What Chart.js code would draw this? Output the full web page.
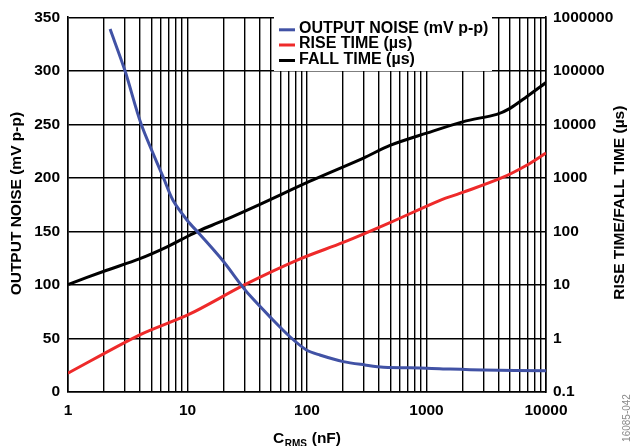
<!DOCTYPE html>
<html>
<head>
<meta charset="utf-8">
<script src="https://cdn.jsdelivr.net/npm/chart.js@4.4.0/dist/chart.umd.min.js"></script>
<style>
html,body{margin:0;padding:0;background:#fff;}
#wrap{width:631px;height:446px;position:relative;}
canvas{display:block;}
</style>
</head>
<body>
<div id="wrap"><canvas id="c" width="631" height="446"></canvas></div>
<script>
// ---- Data ----
const noiseX = [2.25, 3, 4.1, 6.3, 7.6, 10, 12.6, 19.7, 28, 33, 49, 72, 99, 128, 201, 305, 436, 1000, 1580, 3000, 10000];
const noiseY = [339, 300, 250, 200, 178.6, 160, 147.6, 122.8, 100.3, 90.5, 70.2, 51.6, 39.3, 34.6, 28.4, 25.3, 23.2, 22.3, 21.4, 20.5, 19.8];

const riseX = [1, 3.95, 10.35, 29.9, 87.6, 201, 495, 1298, 2040, 4390, 6890, 10000];
const riseY = [0.225, 1.157, 2.84, 10, 30.6, 62.2, 146, 381, 540, 1030, 1720, 2910];

const fallX = [1, 2.08, 3.95, 6.61, 10.35, 12.7, 19.7, 40.4, 106, 297, 495, 1000, 2040, 3870, 5000, 6890, 10000];
const fallY = [10.2, 18.6, 30.6, 50.3, 84, 105, 157, 321, 869, 2350, 4040, 6840, 11270, 15400, 19900, 32800, 60400];

const xTickValues = [1, 10, 100, 1000, 10000];
const xTickLabels = ['1', '10', '100', '1000', '10000'];
const xMinorMultipliers = [2, 3, 4, 5, 6, 7, 8, 9];
const yLeftTickLabels = ['0', '50', '100', '150', '200', '250', '300', '350'];
const yRightTickValues = [0.1, 1, 10, 100, 1000, 10000, 100000, 1000000];
const yRightTickLabels = ['0.1', '1', '10', '100', '1000', '10000', '100000', '1000000'];

const seriesNames = ['OUTPUT NOISE (mV p-p)', 'RISE TIME (µs)', 'FALL TIME (µs)'];
const seriesColors = ['#4152A5', '#EE2A2A', '#000000'];

const leftTitle = 'OUTPUT NOISE (mV p-p)';
const rightTitle = 'RISE TIME/FALL TIME (µs)';
const xTitleMain = 'C';
const xTitleSub = 'RMS';
const xTitleTail = ' (nF)';
const figureId = '16085-042';

// ---- Chart ----
const FONT = "'Liberation Sans', Arial, Helvetica, sans-serif";
Chart.defaults.font.family = FONT;
Chart.defaults.color = '#000';

const xGrid = [];
for (let d = 0; d < xTickValues.length; d++) {
  xGrid.push(xTickValues[d]);
  if (d < xTickValues.length - 1) {
    for (const m of xMinorMultipliers) xGrid.push(xTickValues[d] * m);
  }
}

const toPts = (xs, ys) => xs.map((x, i) => ({x: x, y: ys[i]}));

const annot = {
  id: 'annot',
  afterDatasetsDraw(chart) {
    const ctx = chart.ctx;
    ctx.save();
    // legend box
    ctx.fillStyle = '#fff';
    ctx.fillRect(274, 16.5, 218, 54.5);
    const rows = [28.8, 44, 59.5];
    ctx.font = "bold 16px " + FONT;
    ctx.textBaseline = 'middle';
    ctx.textAlign = 'left';
    for (let i = 0; i < seriesNames.length; i++) {
      ctx.strokeStyle = seriesColors[i];
      ctx.lineWidth = 3;
      ctx.beginPath();
      ctx.moveTo(279, rows[i] + 1);
      ctx.lineTo(295, rows[i] + 1);
      ctx.stroke();
      ctx.fillStyle = '#000';
      ctx.fillText(seriesNames[i], 299, rows[i]);
    }
    ctx.restore();
  },
  afterDraw(chart) {
    const ctx = chart.ctx;
    const ca = chart.chartArea;
    const cy = (ca.top + ca.bottom) / 2;
    ctx.save();
    ctx.fillStyle = '#000';
    ctx.font = "bold 15.5px " + FONT;
    ctx.textAlign = 'center';
    ctx.textBaseline = 'middle';
    // left title
    ctx.save();
    ctx.translate(17, cy - 1);
    ctx.rotate(-Math.PI / 2);
    ctx.fillText(leftTitle, 0, 0);
    ctx.restore();
    // right title
    ctx.save();
    ctx.translate(620, cy - 2);
    ctx.rotate(-Math.PI / 2);
    ctx.fillText(rightTitle, 0, 0);
    ctx.restore();
    // x title with subscript
    ctx.textAlign = 'left';
    ctx.textBaseline = 'alphabetic';
    const mainFont = "bold 15.5px " + FONT;
    const subFont = "bold 10px " + FONT;
    ctx.font = mainFont;
    const w1 = ctx.measureText(xTitleMain).width;
    const w3 = ctx.measureText(xTitleTail).width;
    ctx.font = subFont;
    const w2 = ctx.measureText(xTitleSub).width;
    const total = w1 + w2 + w3 + 1;
    let x = (ca.left + ca.right) / 2 - total / 2;
    const base = 443;
    ctx.font = mainFont;
    ctx.fillText(xTitleMain, x, base);
    x += w1 + 0.5;
    ctx.font = subFont;
    ctx.fillText(xTitleSub, x, base + 3.5);
    x += w2 + 0.5;
    ctx.font = mainFont;
    ctx.fillText(xTitleTail, x, base);
    // figure id
    ctx.save();
    ctx.fillStyle = '#8a8a8a';
    ctx.font = "10px " + FONT;
    ctx.textAlign = 'center';
    ctx.textBaseline = 'middle';
    ctx.translate(627, 418);
    ctx.rotate(-Math.PI / 2);
    ctx.fillText(figureId, 0, 0);
    ctx.restore();
    ctx.restore();
  }
};

const lineDs = (label, pts, color, axis) => ({
  label: label,
  data: pts,
  borderColor: color,
  backgroundColor: color,
  borderWidth: 3,
  pointRadius: 0,
  fill: false,
  tension: 0.3,
  yAxisID: axis
});

new Chart(document.getElementById('c'), {
  type: 'line',
  data: {
    datasets: [
      lineDs(seriesNames[0], toPts(noiseX, noiseY), seriesColors[0], 'y'),
      lineDs(seriesNames[1], toPts(riseX, riseY), seriesColors[1], 'y2'),
      lineDs(seriesNames[2], toPts(fallX, fallY), seriesColors[2], 'y2')
    ]
  },
  options: {
    responsive: false,
    animation: false,
    devicePixelRatio: 1,
    layout: {padding: {top: 15, left: 0, right: 0, bottom: 0}},
    plugins: {legend: {display: false}, tooltip: {enabled: false}},
    scales: {
      x: {
        type: 'logarithmic',
        position: 'bottom',
        min: 1,
        max: 10000,
        afterBuildTicks: (s) => { s.ticks = xGrid.map(v => ({value: v})); },
        afterFit: (s) => { s.height = 54; },
        ticks: {
          autoSkip: false,
          maxRotation: 0,
          padding: 9,
          color: '#000',
          font: {size: 15.5, weight: 'bold'},
          callback: (v) => { const i = xTickValues.indexOf(v); return i >= 0 ? xTickLabels[i] : ''; }
        },
        grid: {color: '#000', lineWidth: 1.4, drawTicks: false},
        border: {color: '#000', width: 1.6}
      },
      y: {
        type: 'linear',
        position: 'left',
        min: 0,
        max: 350,
        afterFit: (s) => { s.width = 68; },
        ticks: {
          stepSize: 50,
          padding: 8,
          color: '#000',
          font: {size: 15.5, weight: 'bold'},
          callback: (v) => yLeftTickLabels[Math.round(v / 50)]
        },
        grid: {color: '#000', lineWidth: 1.4, drawTicks: false},
        border: {color: '#000', width: 1.6}
      },
      y2: {
        type: 'logarithmic',
        position: 'right',
        min: 0.1,
        max: 1000000,
        afterBuildTicks: (s) => { s.ticks = yRightTickValues.map(v => ({value: v})); },
        afterFit: (s) => { s.width = 85; },
        ticks: {
          autoSkip: false,
          padding: 7,
          color: '#000',
          font: {size: 15.5, weight: 'bold'},
          callback: (v) => { const i = yRightTickValues.indexOf(v); return i >= 0 ? yRightTickLabels[i] : ''; }
        },
        grid: {display: true, drawOnChartArea: false, drawTicks: false},
        border: {color: '#000', width: 1.6}
      }
    }
  },
  plugins: [annot]
});
</script>
</body>
</html>
